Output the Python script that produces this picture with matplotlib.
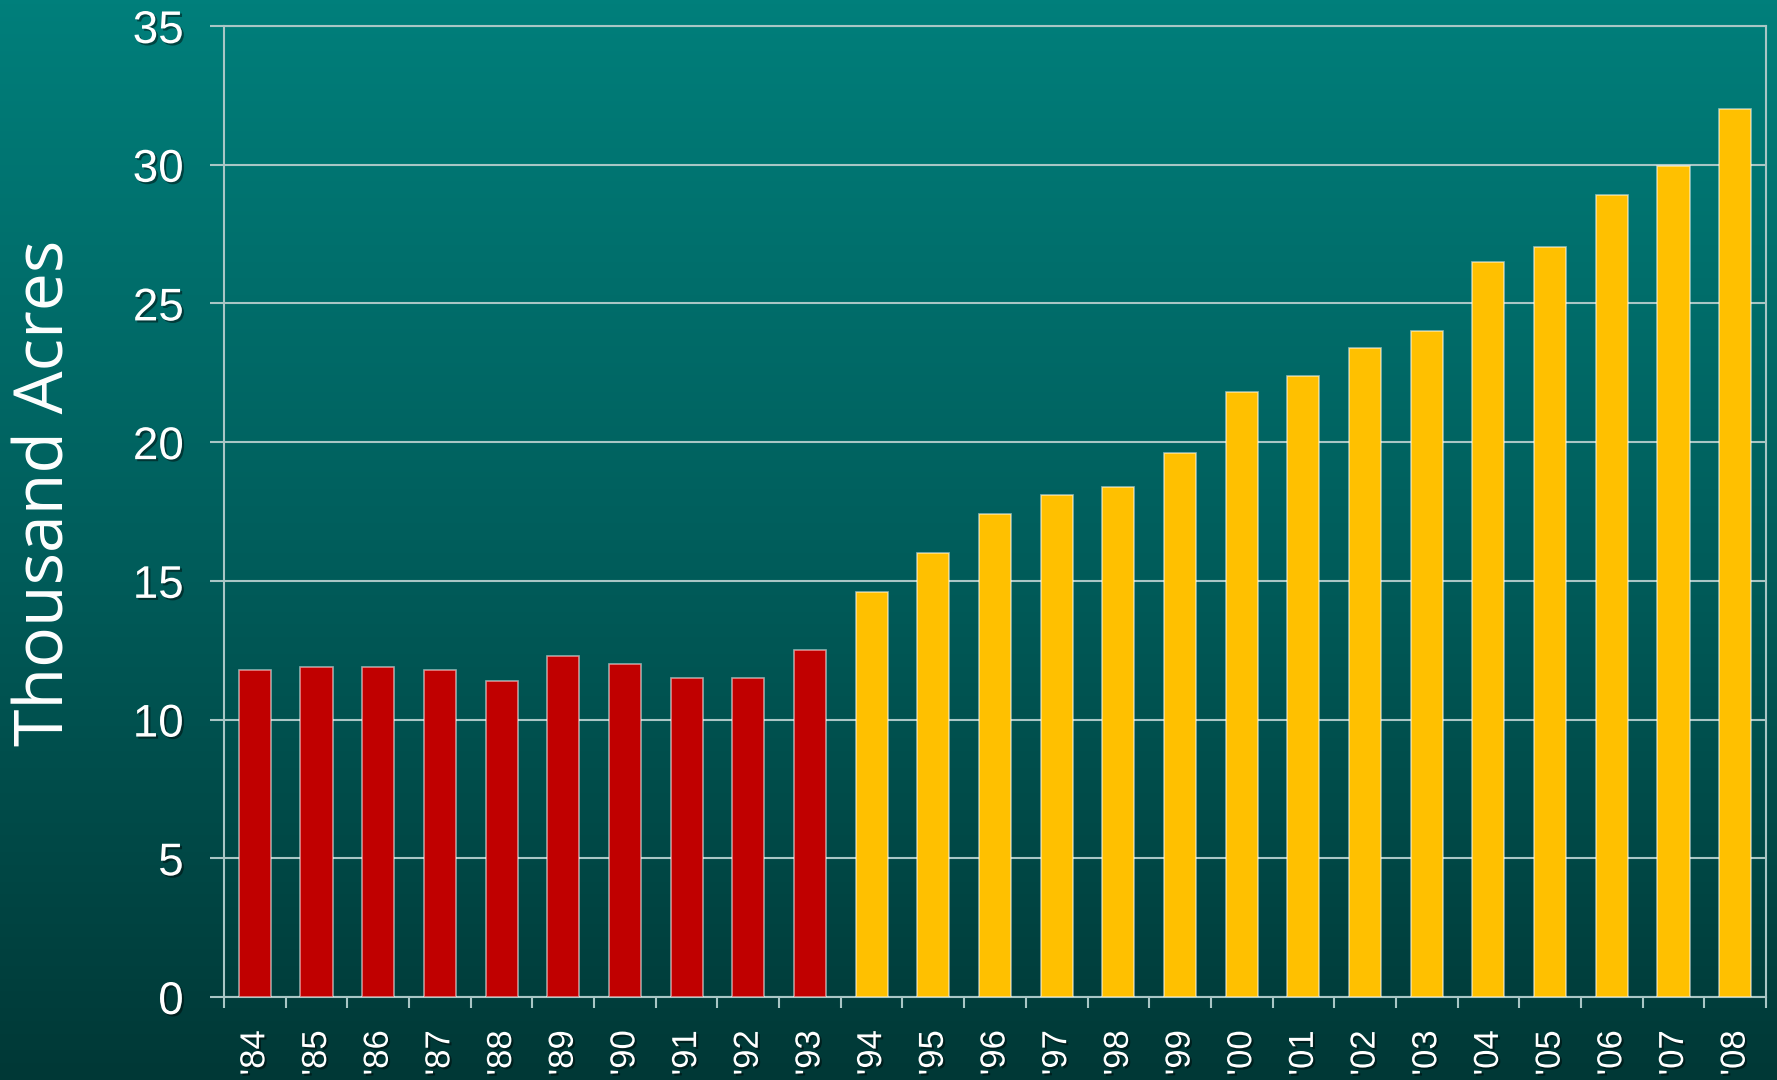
import numpy as np
import matplotlib
matplotlib.use("Agg")
import matplotlib.pyplot as plt
from matplotlib.colors import LinearSegmentedColormap
import matplotlib.patheffects as pe

years = ["'84", "'85", "'86", "'87", "'88", "'89", "'90", "'91", "'92", "'93",
         "'94", "'95", "'96", "'97", "'98", "'99", "'00", "'01", "'02", "'03",
         "'04", "'05", "'06", "'07", "'08"]
values = [11.8, 11.9, 11.9, 11.8, 11.4, 12.3, 12.0, 11.5, 11.5, 12.5,
          14.6, 16.0, 17.4, 18.1, 18.4, 19.6, 21.8, 22.4, 23.4, 24.0,
          26.5, 27.05, 28.9, 29.95, 32.0]
period = ["early"] * 10 + ["late"] * 15
colors_map = {"early": "#C00000", "late": "#FFC000"}
yticks = [0, 5, 10, 15, 20, 25, 30, 35]

fig = plt.figure(figsize=(17.77, 10.80), dpi=100)

# background gradient
bg = fig.add_axes([0, 0, 1, 1], zorder=-10)
cmap = LinearSegmentedColormap.from_list("bg", ["#007F7B", "#005E5C", "#003836"])
grad = np.linspace(0, 1, 256).reshape(-1, 1)
bg.imshow(grad, aspect="auto", cmap=cmap, extent=[0, 1, 0, 1])
bg.axis("off")

ax = fig.add_axes([224/1777, 83/1080, (1766-224)/1777, (997-26)/1080])
ax.set_facecolor("none")

x = np.arange(len(years))
ax.bar(x, values, width=0.52, color=[colors_map[p] for p in period],
       edgecolor=(1, 1, 1, 0.55), linewidth=1.2, zorder=3)

ax.set_xlim(-0.5, len(years) - 0.5)
ax.set_ylim(0, 35)

gridc = "#a9c6c5"
ax.set_yticks(yticks)
ax.yaxis.grid(True, color=gridc, linewidth=1.5, zorder=1)
ax.set_axisbelow(True)
for s in ["left", "right", "bottom", "top"]:
    ax.spines[s].set_color(gridc)
    ax.spines[s].set_linewidth(1.5)

shadow = [pe.withSimplePatchShadow(offset=(1.5, -1.5), shadow_rgbFace="black", alpha=0.45)]

ax.tick_params(axis="y", direction="out", length=10, width=1.5, color=gridc,
               pad=19, labelsize=33, labelcolor="white")
for lab in ax.get_yticklabels():
    lab.set_fontfamily("Liberation Sans")
    lab.set_path_effects(shadow)

ax.set_xticks(x)
ax.set_xticklabels(years, rotation=90, fontfamily="Liberation Sans")
ax.set_xticks(np.arange(-0.5, len(years), 1.0), minor=True)
ax.tick_params(axis="x", which="major", length=0, pad=24, labelsize=25, labelcolor="white")
ax.tick_params(axis="x", which="minor", direction="out", length=8, width=1.5, color=gridc)
for lab in ax.get_xticklabels():
    lab.set_path_effects(shadow)

fig.text(46/1777, 1 - 493/1080, "Thousand Acres", rotation=90, color="white",
         fontsize=49, fontfamily="Open Sans", ha="center", va="center")

fig.savefig("out.png", dpi=100)
